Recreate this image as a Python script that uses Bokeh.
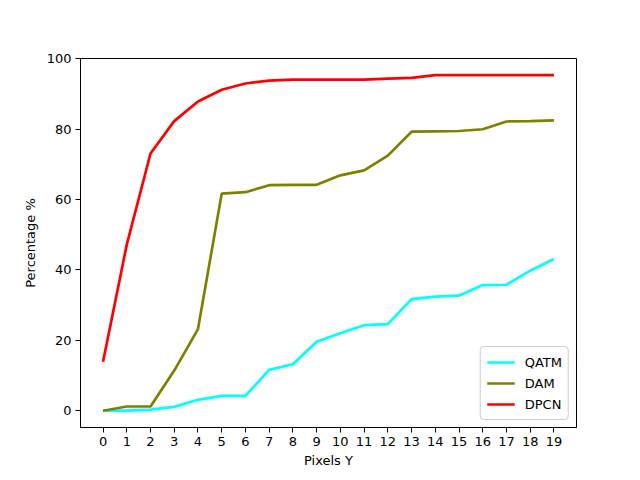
from bokeh.plotting import figure
from bokeh.models import Range1d, FixedTicker, Legend, LegendItem
from bokeh.embed import file_html
from bokeh.resources import INLINE

pixels = list(range(20))
qatm = [0.0, 0.0, 0.3, 1.1, 3.1, 4.2, 4.2, 11.6, 13.2, 19.6, 22.0, 24.3, 24.6, 31.7, 32.4, 32.7, 35.7, 35.8, 39.8, 43.1]
dam = [0.0, 1.2, 1.2, 11.4, 23.2, 61.7, 62.1, 64.1, 64.2, 64.2, 66.9, 68.3, 72.5, 79.3, 79.4, 79.5, 80.0, 82.2, 82.3, 82.5]
dpcn = [13.9, 47.2, 73.1, 82.3, 87.9, 91.2, 93.0, 93.8, 94.1, 94.1, 94.1, 94.1, 94.4, 94.6, 95.4, 95.4, 95.4, 95.4, 95.4, 95.4]
series_names = ["QATM", "DAM", "DPCN"]
series_colors = ["#00FFFF", "#808000", "#FF0000"]
y_ticks = [0, 20, 40, 60, 80, 100]

FONT = "DejaVu Sans"

p = figure(width=632, height=472, output_backend="svg", toolbar_location=None,
           x_range=Range1d(-0.95, 19.95), y_range=Range1d(-4.77, 100.1),
           min_border_left=80, min_border_right=56, min_border_top=58, min_border_bottom=45)

p.xgrid.visible = False
p.ygrid.visible = False
p.outline_line_color = "black"
p.outline_line_width = 1
p.background_fill_color = "white"
p.border_fill_color = "white"

for ax in (p.xaxis[0], p.yaxis[0]):
    ax.major_label_text_font = FONT
    ax.major_label_text_font_size = "13px"
    ax.major_label_text_color = "black"
    ax.axis_label_text_font = FONT
    ax.axis_label_text_font_size = "13px"
    ax.axis_label_text_font_style = "normal"
    ax.axis_label_text_color = "black"
    ax.axis_line_color = "black"
    ax.major_tick_line_color = "black"
    ax.major_tick_out = 5
    ax.major_tick_in = 0
    ax.minor_tick_line_color = None
    ax.major_label_standoff = 4

p.xaxis.axis_label = "Pixels Y"
p.yaxis.axis_label = "Percentage %"
p.xaxis.ticker = FixedTicker(ticks=pixels)
p.yaxis.ticker = FixedTicker(ticks=y_ticks)
p.xaxis.axis_label_standoff = 4
p.yaxis.axis_label_standoff = 6

items = []
for name, vals, col in zip(series_names, [qatm, dam, dpcn], series_colors):
    r = p.line(pixels, vals, line_color=col, line_width=2.7)
    items.append(LegendItem(label=name, renderers=[r]))

legend = Legend(items=items, location="bottom_right")
legend.label_text_font = FONT
legend.label_text_font_size = "13px"
legend.label_text_color = "black"
legend.border_line_color = "#cccccc"
legend.border_line_alpha = 1
legend.border_radius = 4
legend.background_fill_alpha = 0.8
legend.glyph_width = 28
legend.glyph_height = 18
legend.label_standoff = 10
legend.spacing = 3
legend.padding = 6
legend.margin = 7
p.add_layout(legend)

open("out.html", "w").write(file_html(p, INLINE))
